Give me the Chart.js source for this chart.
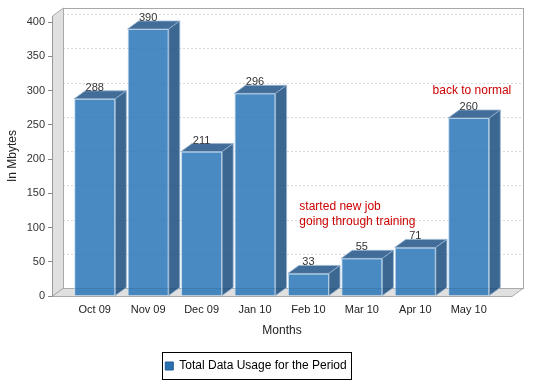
<!DOCTYPE html>
<html>
<head>
<meta charset="utf-8">
<script src="https://cdn.jsdelivr.net/npm/chart.js@4/dist/chart.umd.min.js"></script>
<style>
  body { margin: 0; background: #fff; }
</style>
</head>
<body>
<canvas id="usageChart" width="536" height="389"></canvas>
<script>
const months = ['Oct 09', 'Nov 09', 'Dec 09', 'Jan 10', 'Feb 10', 'Mar 10', 'Apr 10', 'May 10'];
const usage = [288, 390, 211, 296, 33, 55, 71, 260];
const yTicks = [0, 50, 100, 150, 200, 250, 300, 350, 400];
const seriesName = 'Total Data Usage for the Period';

// notes placed in data units (month index, Mbytes)
const noteTexts = [['started new job', 'going through training'], ['back to normal']];
const noteX = [3.83, 7.06];
const noteY = [130, 300];

const dx = 11, dy = 8;

const threeD = {
    id: 'threeD',
    beforeDraw(chart) {
        const {ctx, chartArea: a, scales: {y}} = chart;
        ctx.save();
        ctx.lineWidth = 1;
        // back wall
        ctx.fillStyle = '#fff';
        ctx.fillRect(a.left + dx, a.top - dy, a.width, a.height);
        ctx.strokeStyle = '#d9d9d9';
        ctx.setLineDash([2, 2]);
        y.ticks.forEach(t => {
            if (t.value === 0) return;
            const py = Math.round(y.getPixelForValue(t.value) - dy) + 0.5;
            ctx.beginPath();
            ctx.moveTo(a.left + dx, py);
            ctx.lineTo(a.right + dx, py);
            ctx.stroke();
        });
        ctx.setLineDash([]);
        ctx.strokeStyle = '#a8a8a8';
        ctx.strokeRect(a.left + dx + 0.5, a.top - dy + 0.5, a.width, a.height);

        const poly = (pts) => {
            ctx.beginPath();
            pts.forEach((p, i) => i ? ctx.lineTo(p[0], p[1]) : ctx.moveTo(p[0], p[1]));
            ctx.closePath();
            ctx.fill();
            ctx.stroke();
        };
        ctx.fillStyle = '#e0e0e0';
        ctx.strokeStyle = '#aaaaaa';
        // left wall
        poly([[a.left + 0.5, a.bottom], [a.left + 0.5, a.top], [a.left + dx + 0.5, a.top - dy], [a.left + dx + 0.5, a.bottom - dy]]);
        // floor
        poly([[a.left, a.bottom + 0.5], [a.right, a.bottom + 0.5], [a.right + dx, a.bottom - dy + 0.5], [a.left + dx, a.bottom - dy + 0.5]]);
        ctx.restore();
    },
    afterDatasetsDraw(chart) {
        const {ctx} = chart;
        const meta = chart.getDatasetMeta(0);
        ctx.save();
        ctx.lineWidth = 1;
        meta.data.forEach((bar, i) => {
            const {x, y, base, width} = bar.getProps(['x', 'y', 'base', 'width'], true);
            const l = x - width / 2, r = x + width / 2;
            ctx.strokeStyle = 'rgba(150,180,210,0.8)';
            // top
            ctx.fillStyle = 'rgba(32,84,134,0.85)';
            ctx.beginPath();
            ctx.moveTo(l, y); ctx.lineTo(l + dx, y - dy); ctx.lineTo(r + dx, y - dy); ctx.lineTo(r, y);
            ctx.closePath(); ctx.fill(); ctx.stroke();
            // side
            ctx.fillStyle = 'rgba(26,76,124,0.85)';
            ctx.beginPath();
            ctx.moveTo(r, y); ctx.lineTo(r + dx, y - dy); ctx.lineTo(r + dx, base - dy); ctx.lineTo(r, base);
            ctx.closePath(); ctx.fill(); ctx.stroke();
            // value
            ctx.fillStyle = '#333';
            ctx.font = '11px "Liberation Sans", Arial, sans-serif';
            ctx.textAlign = 'center';
            ctx.textBaseline = 'alphabetic';
            ctx.fillText(usage[i], x, y - 8);
        });
        ctx.restore();
    },
    afterDraw(chart) {
        const {ctx, scales: {x, y}} = chart;
        ctx.save();
        ctx.font = '12px "Liberation Sans", Arial, sans-serif';
        ctx.fillStyle = '#cc0000';
        ctx.textBaseline = 'middle';
        noteTexts.forEach((lines, k) => {
            const px = x.getPixelForValue(noteX[k]);
            const py = y.getPixelForValue(noteY[k]);
            ctx.textAlign = lines.length > 1 ? 'left' : 'center';
            lines.forEach((t, j) => ctx.fillText(t, px, py + j * 15));
        });
        // legend frame
        const hb = chart.legend.legendHitBoxes[0];
        if (hb) {
            ctx.strokeStyle = '#000';
            ctx.lineWidth = 1;
            ctx.strokeRect(Math.round(hb.left) - 2.5, Math.round(hb.top) - 7.5, Math.round(hb.width) + 8, Math.round(hb.height) + 15);
        }
        ctx.restore();
    }
};

Chart.defaults.font.family = '"Liberation Sans", Arial, sans-serif';

new Chart(document.getElementById('usageChart'), {
    type: 'bar',
    data: {
        datasets: [{
            label: seriesName,
            data: usage.map((v, i) => ({x: i, y: v})),
            backgroundColor: 'rgba(42,118,183,0.85)',
            borderColor: 'rgba(190,215,235,0.9)',
            borderWidth: 1,
            barPercentage: 0.77,
            categoryPercentage: 1
        }]
    },
    options: {
        responsive: false,
        animation: false,
        devicePixelRatio: 1,
        layout: {padding: {left: 0, right: 24, top: 16, bottom: 7}},
        plugins: {
            tooltip: {enabled: false},
            legend: {
                position: 'bottom',
                labels: {
                    boxWidth: 8,
                    boxHeight: 8,
                    padding: 10,
                    color: '#000',
                    font: {size: 12},
                    generateLabels: c => Chart.defaults.plugins.legend.labels.generateLabels(c)
                        .map(l => ({...l, fillStyle: '#2a6fb0', strokeStyle: '#1f5a90', lineWidth: 1}))
                }
            }
        },
        scales: {
            x: {
                type: 'linear',
                offset: false,
                bounds: 'data',
                min: -0.8,
                max: 7.81,
                afterBuildTicks: s => { s.ticks = months.map((m, i) => ({value: i})); },
                afterFit: s => { s.height = 54; },
                ticks: {
                    callback: v => months[v],
                    autoSkip: false,
                    maxRotation: 0,
                    padding: 7,
                    color: '#222',
                    font: {size: 11}
                },
                grid: {display: false, drawTicks: false, offset: false},
                border: {display: false},
                title: {display: true, text: 'Months', color: '#222', font: {size: 12}, padding: {top: 4, bottom: 12}}
            },
            y: {
                min: 0,
                max: 409,
                bounds: 'data',
                afterBuildTicks: s => { s.ticks = yTicks.map(v => ({value: v})); },
                afterFit: s => { s.width = 52; },
                ticks: {color: '#333', font: {size: 11}, padding: 3},
                grid: {drawOnChartArea: false, tickLength: 4, color: '#888'},
                border: {color: '#999'},
                title: {display: true, text: 'In Mbytes', color: '#222', font: {size: 12}, padding: {top: 5, bottom: 0}}
            }
        }
    },
    plugins: [threeD]
});
</script>
</body>
</html>
